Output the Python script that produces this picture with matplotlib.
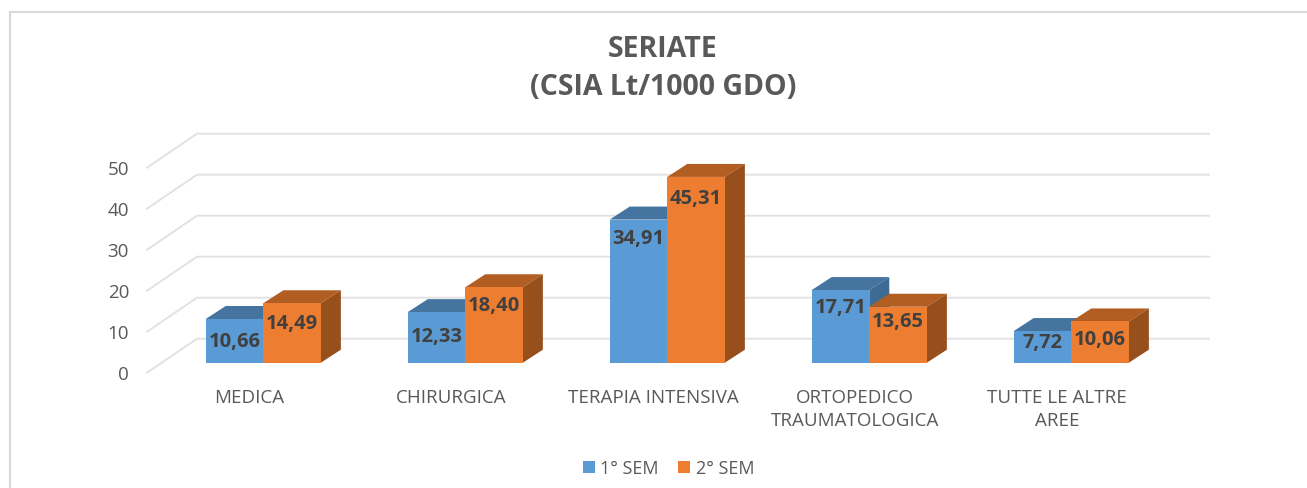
"""seriate chart, 3d look bars drawn by hand on a flat axes"""
import matplotlib
matplotlib.use("Agg")
import matplotlib.pyplot as plt
from matplotlib.patches import Polygon, Patch

plt.rcParams["font.family"] = ["Open Sans", "DejaVu Sans"]

categories = ["MEDICA", "CHIRURGICA", "TERAPIA INTENSIVA", "ORTOPEDICO\nTRAUMATOLOGICA", "TUTTE LE ALTRE\nAREE"]
sem1_values = [10.66, 12.33, 34.91, 17.71, 7.72]
sem2_values = [14.49, 18.40, 45.31, 13.65, 10.06]
series_names = ["1° SEM", "2° SEM"]
y_ticks = [0, 10, 20, 30, 40, 50]
title = "SERIATE\n(CSIA Lt/1000 GDO)"

# how far each label sits under the bar top, in pixels
sem1_label_drop = [22, 24, 18, 17, 11]
sem2_label_drop = [20, 18, 21, 14, 18]

W, H = 1307, 489
PX_X = 202.0   # pixels per category
PX_Y = 4.1     # pixels per unit
X0, Y0 = 263.3, 363.7   # where category 0 and value 0 fall, pixels
BAR_W = 0.285
DEPTH_X = 20 / PX_X
DEPTH_Y = 13 / PX_Y
BACK = 24 / PX_Y     # back wall above the bar base
FRONT = -10 / PX_Y   # front edge of the floor under the bar base
GRID_L = (197 - X0) / PX_X
GRID_R = (1209 - X0) / PX_X
WALL_DX = 50 / PX_X

BLUE = ("#5B9BD5", "#44749F", "#3E6B94")
ORANGE = ("#ED7D31", "#B25D22", "#97501B")
GRID = "#E2E2E2"


def draw_bar(ax, left, value, colors):
    """Front face, top and side of one bar."""
    front, top, side = colors
    right = left + BAR_W
    ax.add_patch(Polygon([(left, value), (left + DEPTH_X, value + DEPTH_Y),
                          (right + DEPTH_X, value + DEPTH_Y), (right, value)],
                         facecolor=top, edgecolor="none", zorder=3))
    ax.add_patch(Polygon([(right, 0), (right + DEPTH_X, DEPTH_Y),
                          (right + DEPTH_X, value + DEPTH_Y), (right, value)],
                         facecolor=side, edgecolor="none", zorder=3))
    ax.add_patch(Polygon([(left, 0), (right, 0), (right, value), (left, value)],
                         facecolor=front, edgecolor="none", zorder=3))


fig = plt.figure(figsize=(W / 100, H / 100), dpi=100)
ax = fig.add_axes([0, 0, 1, 1])
ax.set_xlim(-X0 / PX_X, (W - X0) / PX_X)
ax.set_ylim((Y0 - H) / PX_Y, Y0 / PX_Y)
ax.axis("off")

# chart frame, only top and left are in the crop
ax.plot([10 / W, 10 / W, 1], [0, 1 - 13 / H, 1 - 13 / H], transform=ax.transAxes,
        color="#D9D9D9", lw=1.5, clip_on=False)

# walls
for tick in y_ticks:
    ax.plot([GRID_L - WALL_DX, GRID_L, GRID_R],
            [tick + FRONT, tick + BACK, tick + BACK], color=GRID, lw=1.4, solid_joinstyle="miter")
    ax.text(GRID_L - WALL_DX - 18 / PX_X, tick + FRONT - 1 / PX_Y, str(tick), ha="right", va="center",
            fontsize=13.5, color="#595959")

for i, name in enumerate(categories):
    draw_bar(ax, i - BAR_W, sem1_values[i], BLUE)
    draw_bar(ax, i, sem2_values[i], ORANGE)
    ax.text(i - BAR_W / 2, sem1_values[i] - sem1_label_drop[i] / PX_Y, f"{sem1_values[i]:.2f}".replace(".", ","),
            ha="center", va="center", fontsize=14.5, fontweight="bold", color="#404040", zorder=5)
    ax.text(i + BAR_W / 2, sem2_values[i] - sem2_label_drop[i] / PX_Y, f"{sem2_values[i]:.2f}".replace(".", ","),
            ha="center", va="center", fontsize=14.5, fontweight="bold", color="#404040", zorder=5)
    ax.text(i - 14 / PX_X, -25.5 / PX_Y, name, ha="center", va="top", fontsize=13.5,
            color="#595959", linespacing=1.32)

ax.text((663 - X0) / PX_X, (Y0 - 68.5) / PX_Y, title, ha="center", va="center", fontsize=20.5,
        fontweight="bold", color="#595959", linespacing=1.4)

handles = [Patch(facecolor=BLUE[0], label=series_names[0]), Patch(facecolor=ORANGE[0], label=series_names[1])]
ax.legend(handles=handles, ncol=2, loc="center", bbox_to_anchor=(668.5 / W, 1 - 469 / H), frameon=False,
          fontsize=13, labelcolor="#595959", handlelength=0.65, handleheight=0.65,
          handletextpad=0.3, columnspacing=1.1)

fig.savefig("out.png", dpi=100)
